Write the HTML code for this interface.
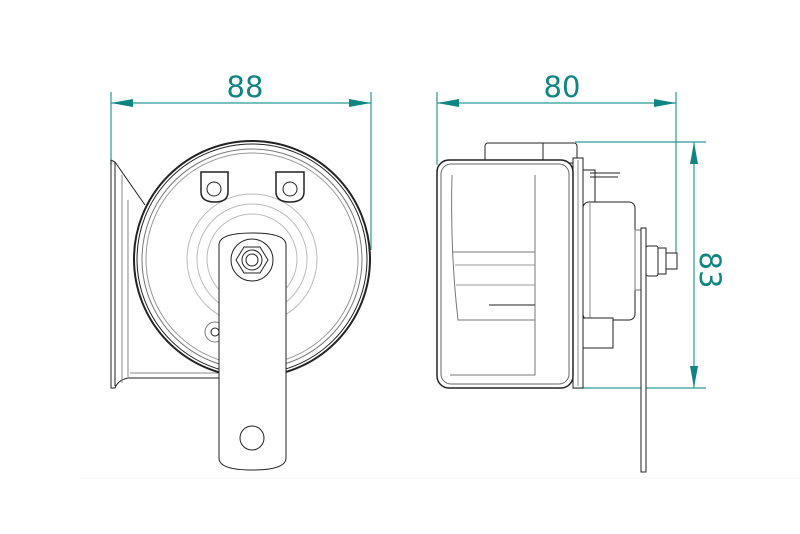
<!DOCTYPE html>
<html><head><meta charset="utf-8"><style>
html,body{margin:0;padding:0;background:#fff;width:800px;height:534px;overflow:hidden}
svg{display:block}
text{font-family:"DejaVu Sans","Liberation Sans",sans-serif;fill:#0f8582}
</style></head><body>
<svg width="800" height="534" viewBox="0 0 800 534" xmlns="http://www.w3.org/2000/svg">
<line x1="80" y1="478" x2="800" y2="478" stroke="#f4f4f4"/>
<!-- dimensions -->
<g stroke="#2a9a96" stroke-width="1.2" fill="none">
<line x1="111" y1="92" x2="111" y2="165"/><line x1="371" y1="92" x2="371" y2="250"/>
<line x1="111" y1="103" x2="371" y2="103"/>
<line x1="437" y1="92" x2="437" y2="165"/><line x1="676" y1="92" x2="676" y2="254"/>
<line x1="437" y1="103" x2="676" y2="103"/>
<line x1="575" y1="142" x2="706" y2="142"/><line x1="573" y1="388" x2="706" y2="388"/>
<line x1="694" y1="142" x2="694" y2="388"/>
</g>
<g fill="#0f8582">
<polygon points="111,103 133,99 133,107"/><polygon points="371,103 349,99 349,107"/>
<polygon points="437,103 459,99 459,107"/><polygon points="676,103 654,99 654,107"/>
<polygon points="694,142 690,164 698,164"/><polygon points="694,388 690,366 698,366"/>
</g>
<text x="245" y="97" font-size="29" text-anchor="middle">88</text>
<text x="562" y="97" font-size="29" text-anchor="middle">80</text>
<text x="0" y="0" font-size="29" text-anchor="middle" transform="translate(700,270) rotate(90)">83</text>

<!-- left view -->
<g stroke="#222" stroke-width="1" fill="none">
<path d="M111,160 L115,162 L145,205" />
<path d="M111,160 L111,388 L115,388 Q118,380 128,378 L220,378"/>
<line x1="115" y1="162" x2="115" y2="386"/>
<line x1="122" y1="175" x2="122" y2="383" stroke="#888"/>
<line x1="128" y1="200" x2="128" y2="378" stroke="#888"/>
<line x1="130" y1="373" x2="220" y2="373" stroke="#888"/>
<circle cx="252" cy="259" r="118" stroke-width="2"/>
<circle cx="252" cy="259" r="115"/>
<circle cx="252" cy="259" r="110" stroke="#777"/>
<circle cx="252" cy="259" r="106" stroke="#999"/>
<circle cx="252" cy="259" r="65" stroke="#bbb"/>
<circle cx="252" cy="259" r="55" stroke="#bbb"/>
<circle cx="252" cy="259" r="45" stroke="#bbb"/>
<path d="M201,172 L228,172 L228,192 Q228,202 215,202 Q201,202 201,192 Z" stroke-width="1.5"/>
<circle cx="214" cy="189" r="7"/>
<path d="M276,172 L304,172 L304,192 Q304,202 290,202 Q276,202 276,192 Z" stroke-width="1.5"/>
<circle cx="290" cy="189" r="7"/>
<circle cx="215" cy="332" r="10" stroke="#777"/><circle cx="215" cy="332" r="4"/>
<path d="M219,245 Q219,233 252,233 Q286,233 286,245 L286,458 Q286,470 252,470 Q219,470 219,458 Z" fill="#fff"/>
<circle cx="252" cy="260" r="21"/>
<polygon points="236,260 244,247 260,247 268,260 260,273 244,273" fill="#fff"/>
<circle cx="252" cy="260" r="10"/><circle cx="252" cy="260" r="6"/>
<circle cx="252" cy="438" r="12"/>
</g>

<!-- right view -->
<g stroke="#222" stroke-width="1" fill="none">
<rect x="485" y="143" width="92" height="20" rx="3" fill="#fff"/>
<line x1="543" y1="143" x2="543" y2="160"/>
<rect x="573" y="158" width="10" height="230" fill="#fff"/>
<line x1="578" y1="160" x2="578" y2="386" stroke="#888"/>
<path d="M583,170 L595,170 L595,210 L583,210" />
<path d="M590,173 L620,173 M590,177 L618,177"/>
<rect x="583" y="202" width="52" height="118" rx="6" fill="#fff"/>
<line x1="590" y1="202" x2="590" y2="320" stroke="#888"/>
<rect x="583" y="318" width="30" height="30" fill="#fff"/>
<rect x="437" y="160" width="136" height="228" rx="12" fill="#fff" stroke-width="1.5"/>
<rect x="441" y="164" width="128" height="220" rx="10" stroke="#666"/>
<path d="M452,175 Q450,250 458,320 L535,320 L535,175" stroke="#777"/>
<path d="M450,375 L535,375 L535,320" stroke="#777"/>
<line x1="452" y1="252" x2="535" y2="252" stroke="#777"/>
<line x1="455" y1="265" x2="535" y2="265" stroke="#999"/>
<line x1="456" y1="285" x2="535" y2="285" stroke="#999"/>
<line x1="489" y1="305" x2="535" y2="305"/>
<line x1="458" y1="320" x2="535" y2="320" stroke="#777"/>
<rect x="635" y="230" width="6" height="60" stroke="#777"/>
<rect x="641" y="228" width="5" height="244" fill="#fff"/>
<rect x="646" y="246" width="12" height="30" rx="2" fill="#fff"/>
<rect x="658" y="248" width="8" height="26" fill="#fff"/>
<rect x="666" y="253" width="11" height="16" fill="#fff"/>
</g>
</svg>
</body></html>
